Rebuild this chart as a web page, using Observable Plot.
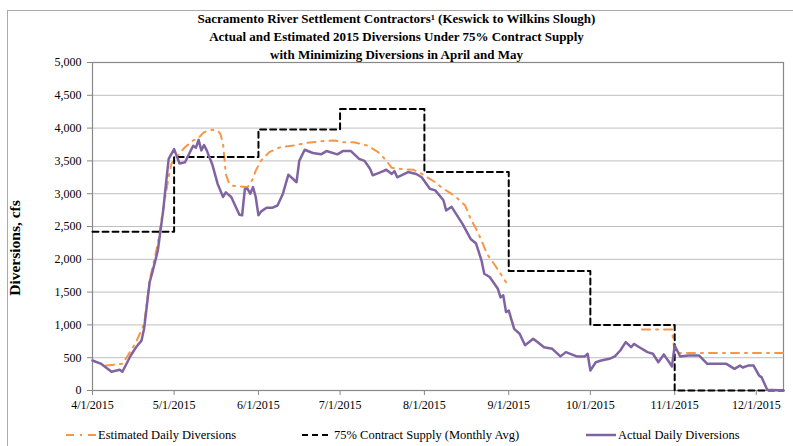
<!DOCTYPE html>
<html><head><meta charset="utf-8">
<script src="https://cdn.jsdelivr.net/npm/d3@7"></script>
<script src="https://cdn.jsdelivr.net/npm/@observablehq/plot@0.6"></script>
<style>
body{margin:0;background:#fff;}
#wrap{position:relative;width:793px;height:446px;overflow:hidden;font-family:"Liberation Serif","Times New Roman",serif;color:#000;}
#border{position:absolute;left:7px;top:10px;width:840px;height:500px;border:1px solid #aaa;}
#title{position:absolute;left:0;top:10px;width:793px;text-align:center;font-weight:bold;font-size:13px;line-height:18px;}
#ylabel{position:absolute;left:15px;top:248px;transform:translate(-50%,-50%) rotate(-90deg);font-weight:bold;font-size:15.5px;white-space:nowrap;}
#chart{position:absolute;left:0;top:0;}
.item{position:absolute;top:426px;height:18px;display:flex;align-items:center;font-size:12.5px;white-space:nowrap;}
.item svg{margin-right:2px;}
</style>
</head><body>
<div id="wrap">
  <div id="border"></div>
  <div id="chart"></div>
  <div id="title">Sacramento River Settlement Contractors¹ (Keswick to Wilkins Slough)<br>Actual and Estimated 2015 Diversions Under 75% Contract Supply<br>with Minimizing Diversions in April and May</div>
  <div id="ylabel">Diversions, cfs</div>
  <div class="item" style="left:66px"><svg width="30" height="6"><line x1="0" y1="3" x2="30" y2="3" stroke="#F79646" stroke-width="2" stroke-dasharray="8,6,2,6"/></svg>Estimated Daily Diversions</div>
  <div class="item" style="left:302px"><svg width="30" height="6"><line x1="0" y1="3" x2="30" y2="3" stroke="#000" stroke-width="2" stroke-dasharray="6,4"/></svg>75% Contract Supply (Monthly Avg)</div>
  <div class="item" style="left:586px"><svg width="30" height="6"><line x1="0" y1="3" x2="30" y2="3" stroke="#8064A2" stroke-width="2.5"/></svg>Actual Daily Diversions</div>
</div>
<script>
// Tick labels / axis values
const startDate = "2015-04-01";
const endDay = 254; // days after 4/1/2015 (x-axis end)
const monthTicks = ["2015-04-01","2015-05-01","2015-06-01","2015-07-01","2015-08-01","2015-09-01","2015-10-01","2015-11-01","2015-12-01"];
const yTicks = [0,500,1000,1500,2000,2500,3000,3500,4000,4500,5000];

// 75% Contract Supply (Monthly Avg)
const supplyStart = ["2015-04-01","2015-05-01","2015-06-01","2015-07-01","2015-08-01","2015-09-01","2015-10-01","2015-11-01","2015-12-11"];
const supplyCfs   = [2420, 3560, 3980, 4290, 3330, 1820, 1000, 0, 0];

// Actual Daily Diversions (day offset from 4/1/2015, cfs)
const actualDay = [0,3,7,10,11,14,16,18,19,21,22,24,26,27,28,30,32,34,37,38,39,40,41,42,44,46,48,49,51,54,55,56,57,58,59,60,61,62,64,66,68,70,72,75,76,78,81,84,86,90,92,95,98,100,102,103,106,108,110,111,112,116,119,121,124,126,129,130,132,134,136,139,141,143,144,146,149,150,151,152,153,155,157,159,162,166,169,172,174,178,181,182,183,185,187,190,192,194,196,198,199,201,204,206,208,210,212,213,214,216,219,223,226,228,233,236,238,239,241,243,245,246,248,254];
const actualCfs = [457,410,285,315,285,530,660,760,950,1650,1800,2130,2750,3150,3530,3680,3460,3480,3730,3700,3820,3660,3740,3660,3450,3150,2950,3020,2950,2680,2670,3070,3075,3000,3100,2950,2670,2730,2785,2785,2820,3000,3290,3175,3500,3670,3620,3600,3650,3600,3650,3650,3530,3500,3380,3280,3330,3365,3300,3345,3250,3330,3300,3250,3075,3050,2900,2745,2800,2670,2540,2310,2240,1980,1780,1730,1550,1420,1450,1195,1220,940,865,690,790,660,635,520,585,520,520,560,305,430,457,483,520,610,737,660,710,660,585,560,430,550,430,366,686,520,533,533,406,406,406,330,380,350,380,380,230,200,10,0];

// Estimated Daily Diversions (null = not shown)
const estDay = [5,11,13,16,19,21,24,26,28,29,31,34,37,39,41,44,46,47,48,49,50,51,54,57,59,60,62,65,69,74,79,84,89,92,96,101,105,108,110,113,118,121,126,129,133,137,139,141,143,145,148,150,152,153,202,213,214,254];
const estCfs = [380,407,533,737,1016,1677,2236,2770,3252,3455,3557,3709,3811,3852,3938,3974,3963,3913,3760,3300,3180,3125,3110,3100,3227,3354,3506,3633,3709,3735,3775,3800,3811,3785,3785,3735,3633,3506,3394,3379,3364,3303,3175,3074,2973,2820,2617,2465,2287,2083,1906,1779,1651,null,930,930,570,570];

const t0 = new Date(startDate);
const dayToDate = d => d3.utcDay.offset(t0, d);

const supply = supplyStart.map((d,i)=>({date:new Date(d), v:supplyCfs[i]}));
const actual = actualDay.map((d,i)=>({date:dayToDate(d), v:actualCfs[i]}));
const est = estDay.map((d,i)=>({date:dayToDate(d), v:estCfs[i]}));

const chart = Plot.plot({
  width: 793, height: 420,
  marginTop: 62, marginBottom: 30, marginLeft: 92, marginRight: 10,
  style: {fontFamily: "'Liberation Serif', 'Times New Roman', serif", fontSize: "12px", color: "#000", background: "transparent", overflow: "visible"},
  x: {type: "utc", domain: [t0, dayToDate(endDay)]},
  y: {domain: [0, 5000]},
  marks: [
    Plot.gridY(yTicks, {stroke: "#bfbfbf", strokeOpacity: 1, strokeWidth: 1}),
    Plot.axisY(yTicks, {tickFormat: d3.format(","), tickSize: 5, tickPadding: 6, stroke: "#888", label: null, fill: "#000"}),
    Plot.axisX(monthTicks.map(d=>new Date(d)), {tickFormat: d3.utcFormat("%-m/%-d/%Y"), tickSize: 5, tickPadding: 5, stroke: "#888", label: null, fill: "#000"}),
    Plot.frame({stroke: "#888", strokeWidth: 1.2}),
    Plot.line(est, {x: "date", y: "v", stroke: "#F79646", strokeWidth: 2, strokeDasharray: "8,6,2,6", defined: d => d.v != null}),
    Plot.line(supply, {x: "date", y: "v", stroke: "#000", strokeWidth: 2, strokeDasharray: "6,4", curve: "step-after"}),
    Plot.line(actual, {x: "date", y: "v", stroke: "#8064A2", strokeWidth: 2.5})
  ]
});
document.getElementById("chart").appendChild(chart);
</script>
</body></html>
